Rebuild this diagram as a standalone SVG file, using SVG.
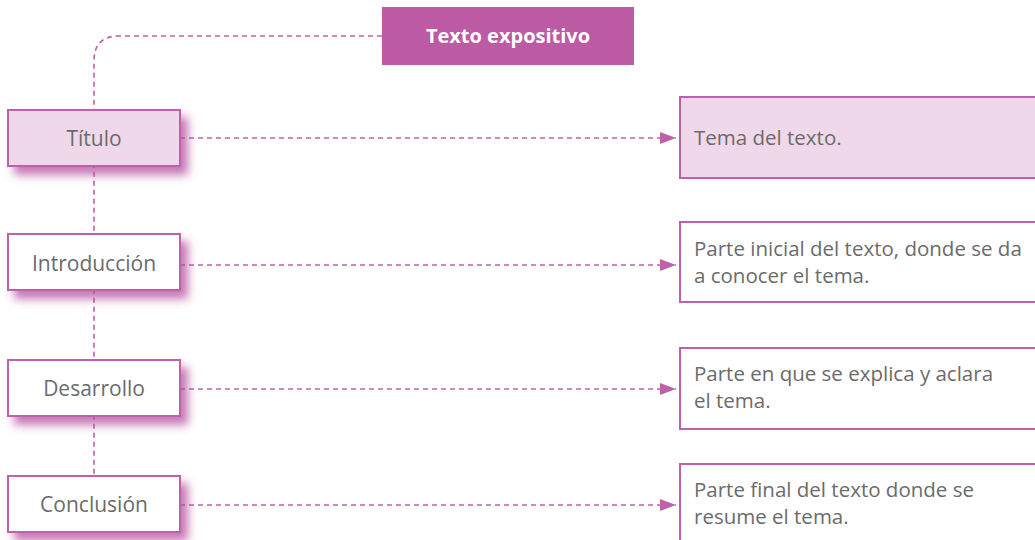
<svg xmlns="http://www.w3.org/2000/svg" width="1035" height="540" viewBox="0 0 1035 540">
<style>
.conn{fill:none;stroke:#C060A8;stroke-width:1.6;stroke-dasharray:5 4}
.lbox{stroke:#C060A8;stroke-width:2;filter:url(#sh)}
.rbox{stroke:#C060A8;stroke-width:2}
.lt{font-family:"Open Sans",Lato,sans-serif;font-size:21px;fill:#6b6b6b;text-anchor:middle}
.rt{font-family:"Open Sans",Lato,sans-serif;font-size:20.5px;fill:#6b6b6b}
.tt{font-family:"Open Sans",Lato,sans-serif;font-size:20px;font-weight:bold;fill:#fff;text-anchor:middle}
</style>
<defs>
<filter id="sh" x="-20%" y="-30%" width="150%" height="180%">
<feDropShadow dx="7" dy="8" stdDeviation="5" flood-color="#B34C9C" flood-opacity="0.75"/>
</filter>
<marker id="ar" markerWidth="16" markerHeight="12" refX="16" refY="6" orient="auto" markerUnits="userSpaceOnUse">
<path d="M0,0 L16,6 L0,12 Z" fill="#C060A8"/>
</marker>
</defs>
<g id="connectors">
<path class="conn" d="M382,36 H119 Q94,36 94,61 V476"/>
<line class="conn" x1="180" y1="138" x2="676" y2="138" marker-end="url(#ar)"/>
<line class="conn" x1="180" y1="265" x2="676" y2="265" marker-end="url(#ar)"/>
<line class="conn" x1="180" y1="389" x2="676" y2="389" marker-end="url(#ar)"/>
<line class="conn" x1="180" y1="505" x2="676" y2="505" marker-end="url(#ar)"/>
</g>
<g id="title">
<rect x="382" y="7" width="252" height="58" fill="#BC5BA3"/>
<text class="tt" x="508" y="43">Texto expositivo</text>
</g>
<g id="n-titulo">
<rect class="lbox" x="8" y="110" width="172" height="56" fill="#EFD8EA"/>
<text class="lt" x="94" y="146">Título</text>
</g>
<g id="n-intro">
<rect class="lbox" x="8" y="234" width="172" height="56" fill="#fff"/>
<text class="lt" x="94" y="271">Introducción</text>
</g>
<g id="n-desarrollo">
<rect class="lbox" x="8" y="360" width="172" height="56" fill="#fff"/>
<text class="lt" x="94" y="396">Desarrollo</text>
</g>
<g id="n-conclusion">
<rect class="lbox" x="8" y="476" width="172" height="56" fill="#fff"/>
<text class="lt" x="94" y="512">Conclusión</text>
</g>
<g id="d-titulo">
<rect class="rbox" x="680" y="97" width="365" height="81" fill="#EFD8EA"/>
<text class="rt" x="694" y="145">Tema del texto.</text>
</g>
<g id="d-intro">
<rect class="rbox" x="680" y="222" width="365" height="80" fill="#fff"/>
<text class="rt" x="694" y="256">Parte inicial del texto, donde se da</text>
<text class="rt" x="694" y="283">a conocer el tema.</text>
</g>
<g id="d-desarrollo">
<rect class="rbox" x="680" y="348" width="365" height="81" fill="#fff"/>
<text class="rt" x="694" y="381">Parte en que se explica y aclara</text>
<text class="rt" x="694" y="408">el tema.</text>
</g>
<g id="d-conclusion">
<rect class="rbox" x="680" y="464" width="365" height="90" fill="#fff"/>
<text class="rt" x="694" y="497">Parte final del texto donde se</text>
<text class="rt" x="694" y="524">resume el tema.</text>
</g>
</svg>
